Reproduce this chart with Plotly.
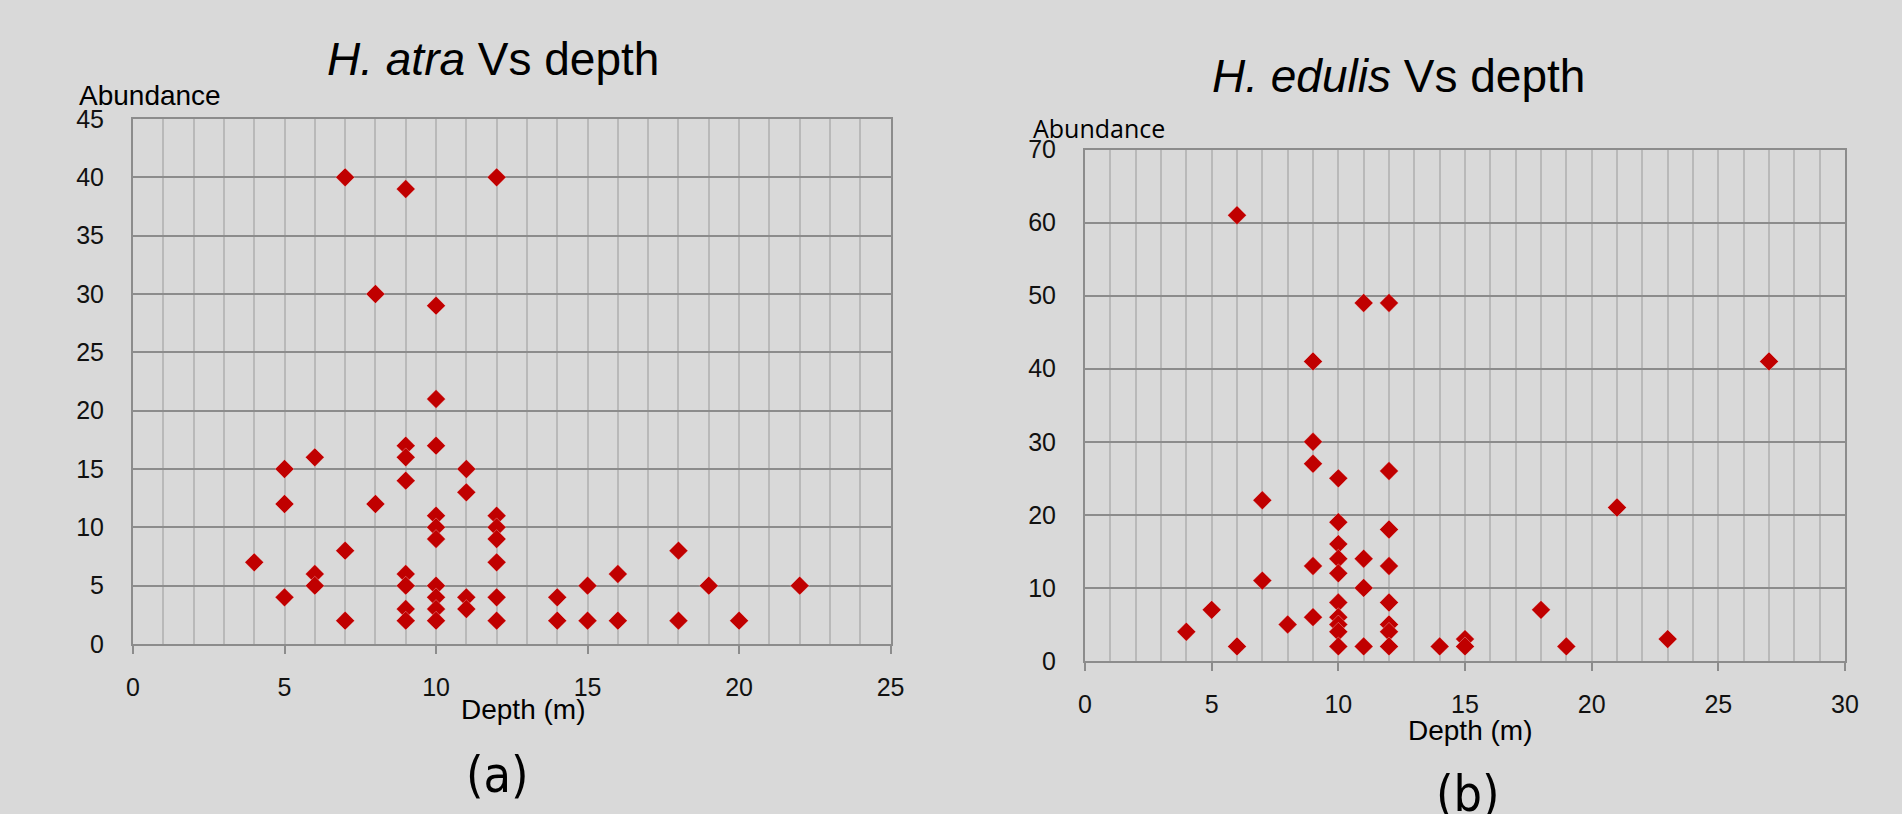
import plotly.graph_objects as go

# ---------------- data ----------------
atra_depth = [4, 5, 5, 5, 6, 6, 6, 7, 7, 7, 8, 8,
              9, 9, 9, 9, 9, 9, 9, 9,
              10, 10, 10, 10, 10, 10, 10, 10, 10, 10,
              11, 11, 11, 11,
              12, 12, 12, 12, 12, 12, 12,
              14, 14, 15, 15, 16, 16, 18, 18, 19, 20, 22]
atra_abund = [7, 15, 12, 4, 16, 6, 5, 40, 8, 2, 30, 12,
              39, 17, 16, 14, 6, 5, 3, 2,
              29, 21, 17, 11, 10, 9, 5, 4, 3, 2,
              15, 13, 4, 3,
              40, 11, 10, 9, 7, 4, 2,
              4, 2, 5, 2, 6, 2, 8, 2, 5, 2, 5]

edulis_depth = [4, 5, 6, 6, 7, 7, 8,
                9, 9, 9, 9, 9,
                10, 10, 10, 10, 10, 10, 10, 10, 10, 10,
                11, 11, 11, 11,
                12, 12, 12, 12, 12, 12, 12, 12,
                14, 15, 15, 18, 19, 21, 23, 27]
edulis_abund = [4, 7, 61, 2, 22, 11, 5,
                41, 30, 27, 13, 6,
                25, 19, 16, 14, 12, 8, 6, 5, 4, 2,
                49, 14, 10, 2,
                49, 26, 18, 13, 8, 5, 4, 2,
                2, 3, 2, 7, 2, 21, 3, 41]

titles = ["<i>H. atra</i> Vs depth", "<i>H. edulis</i> Vs depth"]
x_label = "Depth (m)"
y_label = "Abundance"
panel_labels = ["(a)", "(b)"]

# ---------------- styling ----------------
W, H = 1902, 814
BG = "#d9d9d9"
MARK = "#c00000"
AXIS_C = "#8c8c8c"
MINOR_C = "#b9b9b9"
FONT = "Liberation Sans, Arial, sans-serif"
NARROW = "Liberation Sans Narrow, Arial Narrow, DejaVu Sans Condensed, Roboto Condensed, Liberation Sans, sans-serif"


def px(x):
    return x / W


def py(y):
    return 1 - y / H


fig = go.Figure()

mk = dict(symbol="diamond", size=14.5, color=MARK,
          line=dict(width=1, color="rgba(255,255,255,0.3)"))
fig.add_trace(go.Scatter(x=atra_depth, y=atra_abund, mode="markers", marker=mk,
                         xaxis="x", yaxis="y", showlegend=False))
fig.add_trace(go.Scatter(x=edulis_depth, y=edulis_abund, mode="markers", marker=mk,
                         xaxis="x2", yaxis="y2", showlegend=False))


def xaxis_cfg(domain, rng, anchor):
    return dict(domain=domain, range=rng, dtick=5, tick0=0, anchor=anchor,
                automargin=False,
                showgrid=True, gridcolor=MINOR_C, gridwidth=2,
                minor=dict(dtick=1, showgrid=True, gridcolor=MINOR_C, gridwidth=2, ticks=""),
                showline=True, linecolor=AXIS_C, linewidth=2, mirror=True,
                ticks="outside", ticklen=8, tickwidth=2, tickcolor=AXIS_C,
                ticklabelstandoff=12,
                zeroline=False, fixedrange=True,
                tickfont=dict(family=FONT, size=25, color="#111111"))


def yaxis_cfg(domain, rng, dtick, anchor):
    return dict(domain=domain, range=rng, dtick=dtick, tick0=0, anchor=anchor,
                automargin=False,
                showgrid=True, gridcolor=AXIS_C, gridwidth=2,
                showline=True, linecolor=AXIS_C, linewidth=2, mirror=True,
                ticks="", ticklabelstandoff=22,
                zeroline=False, fixedrange=True,
                tickfont=dict(family=FONT, size=25, color="#111111"))


def narrow(t):
    return '<span style="font-stretch:condensed">' + t + '</span>'


annotations = [
    dict(text=titles[0], x=px(493), y=py(59), font=dict(family=FONT, size=46, color="#000")),
    dict(text=titles[1], x=px(1398), y=py(76), font=dict(family=FONT, size=46, color="#000")),
    dict(text=y_label, x=px(77), y=py(96), xanchor="left", font=dict(family=FONT, size=28, color="#000")),
    dict(text=y_label, x=px(1031), y=py(128), xanchor="left",
         font=dict(family="Open Sans, Noto Sans, sans-serif", size=25, color="#000")),
    dict(text=x_label, x=px(523), y=py(709), font=dict(family=FONT, size=28, color="#000")),
    dict(text=x_label, x=px(1470), y=py(730), font=dict(family=FONT, size=28, color="#000")),
    dict(text=narrow(panel_labels[0]), x=px(498), y=py(775),
         font=dict(family=NARROW, size=50, color="#000")),
    dict(text=narrow(panel_labels[1]), x=px(1468), y=py(794),
         font=dict(family=NARROW, size=50, color="#000")),
]
for a in annotations:
    a.update(xref="paper", yref="paper", showarrow=False)
    a.setdefault("xanchor", "center")
    a.setdefault("yanchor", "middle")

fig.update_layout(
    width=W, height=H,
    margin=dict(l=0, r=0, t=0, b=0, autoexpand=False),
    paper_bgcolor=BG, plot_bgcolor=BG,
    xaxis=xaxis_cfg([px(133), px(890.6)], [0, 25], "y"),
    yaxis=yaxis_cfg([py(644), py(119)], [0, 45], 5, "x"),
    xaxis2=xaxis_cfg([px(1085), px(1845)], [0, 30], "y2"),
    yaxis2=yaxis_cfg([py(661), py(149.5)], [0, 70], 10, "x2"),
    annotations=annotations,
    showlegend=False,
)

fig.write_html("out.html", config=dict(displayModeBar=False, responsive=False))
